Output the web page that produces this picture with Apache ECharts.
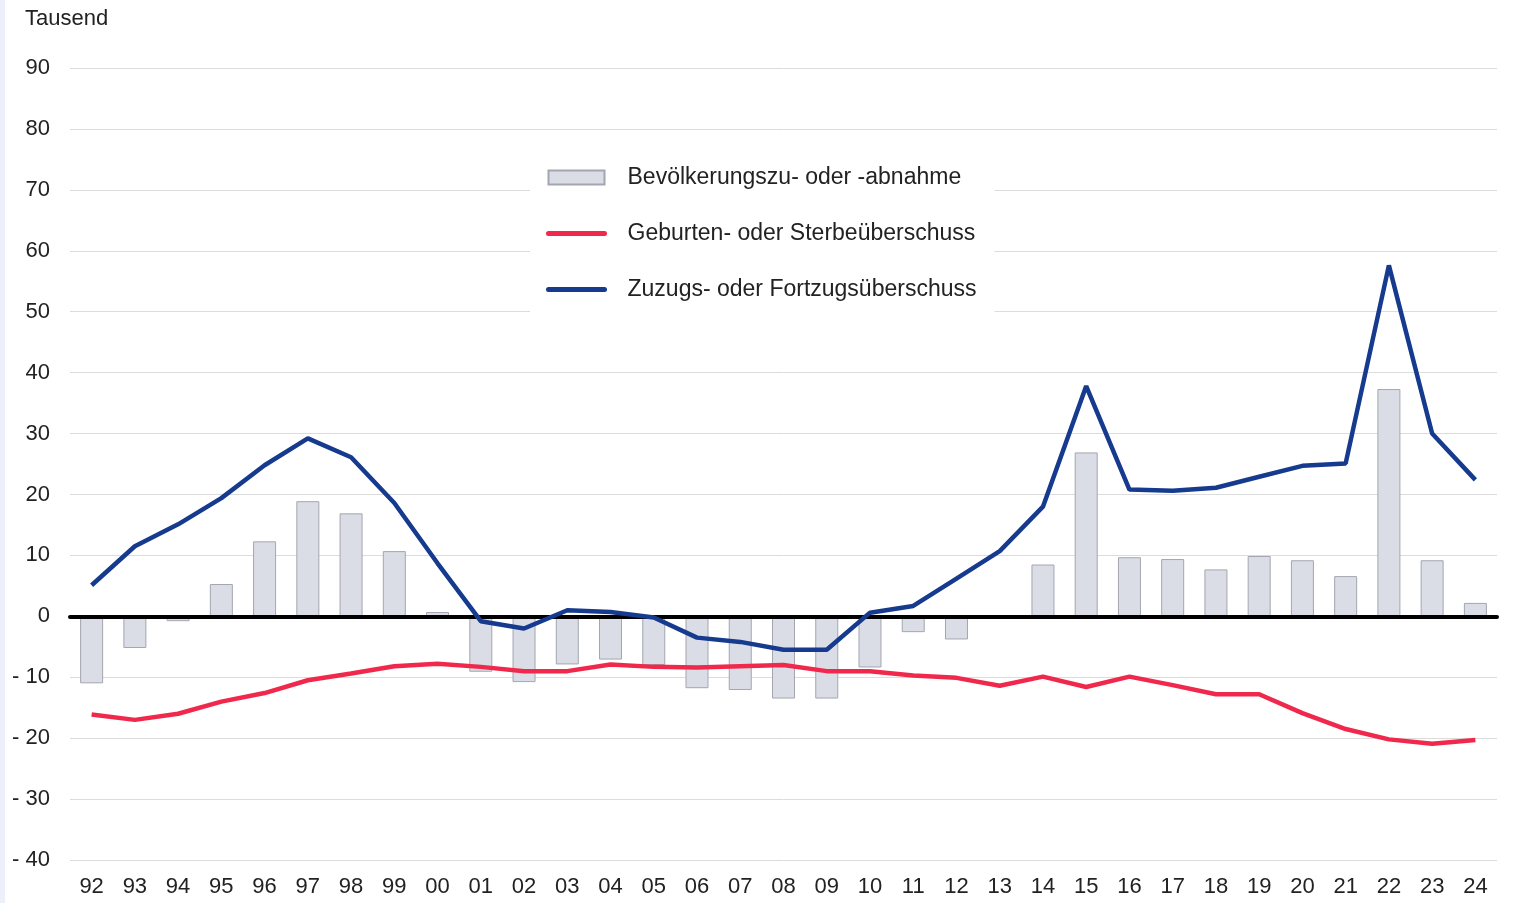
<!DOCTYPE html>
<html>
<head>
<meta charset="utf-8">
<script src="https://cdn.jsdelivr.net/npm/echarts@6/dist/echarts.min.js"></script>
<style>
  html, body { margin: 0; padding: 0; background: #fff; }
  #chart { width: 1519px; height: 903px; }
  .strip { position: absolute; left: 0; top: 0; width: 5px; height: 903px; background: #edf0fa; }
</style>
</head>
<body>
<div id="chart"></div>
<div class="strip"></div>
<script>
// Jahre (zweistellig)
const years = ['92', '93', '94', '95', '96', '97', '98', '99', '00', '01', '02', '03', '04', '05', '06', '07',
  '08', '09', '10', '11', '12', '13', '14', '15', '16', '17', '18', '19', '20', '21', '22', '23', '24'];

// Bevölkerungszu- oder -abnahme (Tausend)
const bevoelkerung = [-11.0, -5.2, -0.8, 5.3, 12.3, 18.9, 16.9, 10.7, 0.7, -9.1, -10.8, -7.9, -7.1, -8.0, -11.8, -12.1,
  -13.5, -13.5, -8.4, -2.6, -3.8, 0, 8.5, 26.9, 9.7, 9.4, 7.7, 9.9, 9.2, 6.6, 37.3, 9.2, 2.2];

// Geburten- oder Sterbeüberschuss
const geburten = [-16.1, -17.0, -16.0, -14.0, -12.6, -10.5, -9.4, -8.2, -7.8, -8.3, -9.0, -9.0, -7.9, -8.3, -8.4, -8.2,
  -8.0, -9.0, -9.0, -9.7, -10.1, -11.4, -9.9, -11.6, -9.9, -11.3, -12.8, -12.8, -15.9, -18.5, -20.2, -20.9, -20.3];

// Zuzugs- oder Fortzugsüberschuss
const zuzuege = [5.1, 11.5, 15.1, 19.4, 24.8, 29.2, 26.1, 18.6, 8.7, -0.8, -2.0, 1.0, 0.7, -0.2, -3.5, -4.2,
  -5.5, -5.5, 0.6, 1.7, 6.2, 10.7, 18.0, 37.8, 20.8, 20.6, 21.1, 22.9, 24.7, 25.1, 57.6, 30.0, 22.4];

const chart = echarts.init(document.getElementById('chart'));

const option = {
  animation: false,
  backgroundColor: '#fff',
  title: {
    text: 'Tausend',
    left: 20,
    top: 3,
    textStyle: { fontFamily: 'Liberation Sans', fontSize: 22, fontWeight: 'normal', color: '#222' }
  },
  legend: {
    orient: 'vertical',
    left: 530,
    top: 150,
    padding: [16, 18, 16, 16],
    backgroundColor: '#fff',
    itemWidth: 56,
    itemHeight: 14,
    itemGap: 33,
    textStyle: {
      fontFamily: 'Liberation Sans',
      fontSize: 23,
      lineHeight: 22,
      color: '#222',
      padding: [0, 0, 0, 18]
    },
    data: [
      { name: 'Bevölkerungszu- oder -abnahme', icon: 'rect' },
      { name: 'Geburten- oder Sterbeüberschuss', itemStyle: { opacity: 0 }, lineStyle: { width: 5, cap: 'round' } },
      { name: 'Zuzugs- oder Fortzugsüberschuss', itemStyle: { opacity: 0 }, lineStyle: { width: 5, cap: 'round' } }
    ]
  },
  grid: {
    left: 70,
    right: 22,
    top: 68,
    bottom: 43,
    containLabel: false
  },
  xAxis: {
    type: 'category',
    data: years,
    z: 2,
    axisLine: { onZero: true, lineStyle: { color: '#000', width: 4 } },
    axisTick: { show: false },
    axisLabel: {
      margin: 16,
      fontFamily: 'Liberation Sans',
      fontSize: 22,
      color: '#222'
    }
  },
  yAxis: {
    type: 'value',
    min: -40,
    max: 90,
    interval: 10,
    axisLine: { show: false },
    axisTick: { show: false },
    splitLine: { lineStyle: { color: '#dcdcdc', width: 1 } },
    axisLabel: {
      margin: 20,
      fontFamily: 'Liberation Sans',
      fontSize: 22,
      color: '#222',
      formatter: function (v) { return v < 0 ? '- ' + Math.abs(v) : String(v); }
    }
  },
  series: [
    {
      name: 'Bevölkerungszu- oder -abnahme',
      type: 'bar',
      data: bevoelkerung,
      barWidth: 23,
      z: 1,
      itemStyle: { color: '#dadde5', borderColor: '#a3a6b0', borderWidth: 1 }
    },
    {
      name: 'Geburten- oder Sterbeüberschuss',
      type: 'line',
      data: geburten,
      symbol: 'none',
      z: 3,
      color: '#f0294c',
      lineStyle: { color: '#f0294c', width: 4.5 }
    },
    {
      name: 'Zuzugs- oder Fortzugsüberschuss',
      type: 'line',
      data: zuzuege,
      symbol: 'none',
      z: 4,
      color: '#153a8e',
      lineStyle: { color: '#153a8e', width: 4.5 }
    }
  ]
};

chart.setOption(option);
window.addEventListener('resize', () => chart.resize());
</script>
</body>
</html>
